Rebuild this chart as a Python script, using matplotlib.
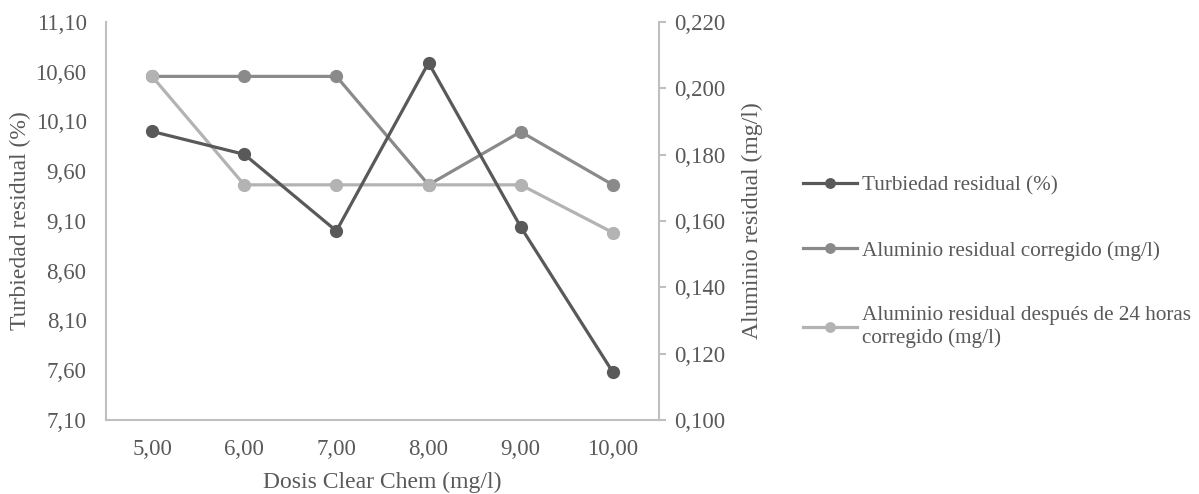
import matplotlib.pyplot as plt
from matplotlib.ticker import FuncFormatter

plt.rcParams['font.family'] = ['Liberation Serif', 'DejaVu Serif']

dosis = ['5,00', '6,00', '7,00', '8,00', '9,00', '10,00']
turbiedad = [10.00, 9.77, 9.00, 10.69, 9.04, 7.58]
al_corregido = [0.2036, 0.2036, 0.2036, 0.1709, 0.1869, 0.1709]
al_24h = [0.2036, 0.1709, 0.1709, 0.1709, 0.1709, 0.1565]

c_dark = '#595959'
c_mid = '#8a8a8a'
c_light = '#b3b3b3'
txt = '#595959'
spine = '#bfbfbf'

fig = plt.figure(figsize=(11.99, 4.94), dpi=100)
ax = fig.add_axes([0.0884, 0.1498, 0.4612, 0.8057])
ax2 = ax.twinx()

x = range(len(dosis))
l1, = ax.plot(x, turbiedad, color=c_dark, lw=2.3, marker='o', ms=8.5, zorder=3,
              label='Turbiedad residual (%)')
l2, = ax2.plot(x, al_corregido, color=c_mid, lw=2.3, marker='o', ms=8.5,
               label='Aluminio residual corregido (mg/l)')
l3, = ax2.plot(x, al_24h, color=c_light, lw=2.3, marker='o', ms=8.5,
               label='Aluminio residual después de 24 horas\ncorregido (mg/l)')
ax.set_zorder(ax2.get_zorder() + 1)
ax.patch.set_visible(False)

ax.set_xlim(-0.5, 5.5)
ax.set_xticks(list(x))
ax.set_xticklabels(dosis)
ax.set_ylim(7.10, 11.10)
ax.set_yticks([7.10 + 0.5 * i for i in range(9)])
ax.yaxis.set_major_formatter(FuncFormatter(lambda v, p: f'{v:.2f}'.replace('.', ',')))
ax2.set_ylim(0.100, 0.220)
ax2.set_yticks([0.100 + 0.02 * i for i in range(7)])
ax2.yaxis.set_major_formatter(FuncFormatter(lambda v, p: f'{v:.3f}'.replace('.', ',')))

for a in (ax, ax2):
    for s in a.spines.values():
        s.set_visible(False)
    a.tick_params(colors=txt, labelsize=16.5)
ax.spines['left'].set_visible(True)
ax.spines['bottom'].set_visible(True)
ax2.spines['right'].set_visible(True)
for s in (ax.spines['left'], ax.spines['bottom'], ax2.spines['right']):
    s.set_color(spine)
    s.set_linewidth(1.5)
ax.tick_params(axis='y', length=0, pad=14)
ax.tick_params(axis='x', length=0, pad=14)
ax2.tick_params(axis='y', length=5, width=1.5, color=spine, pad=6)

ax.set_xlabel('Dosis Clear Chem (mg/l)', color=txt, fontsize=17, labelpad=8)
ax.set_ylabel('Turbiedad residual (%)', color=txt, fontsize=17, labelpad=3)
ax2.set_ylabel('Aluminio residual (mg/l)', color=txt, fontsize=17, labelpad=12)

fig.legend(handles=[l1, l2, l3], loc='center left', bbox_to_anchor=(0.6535, 0.47),
           frameon=False, fontsize=15.2, labelcolor=txt, handlelength=2.6,
           handletextpad=0.2, labelspacing=2.15, markerscale=0.8)

fig.savefig('out.png', dpi=100)
